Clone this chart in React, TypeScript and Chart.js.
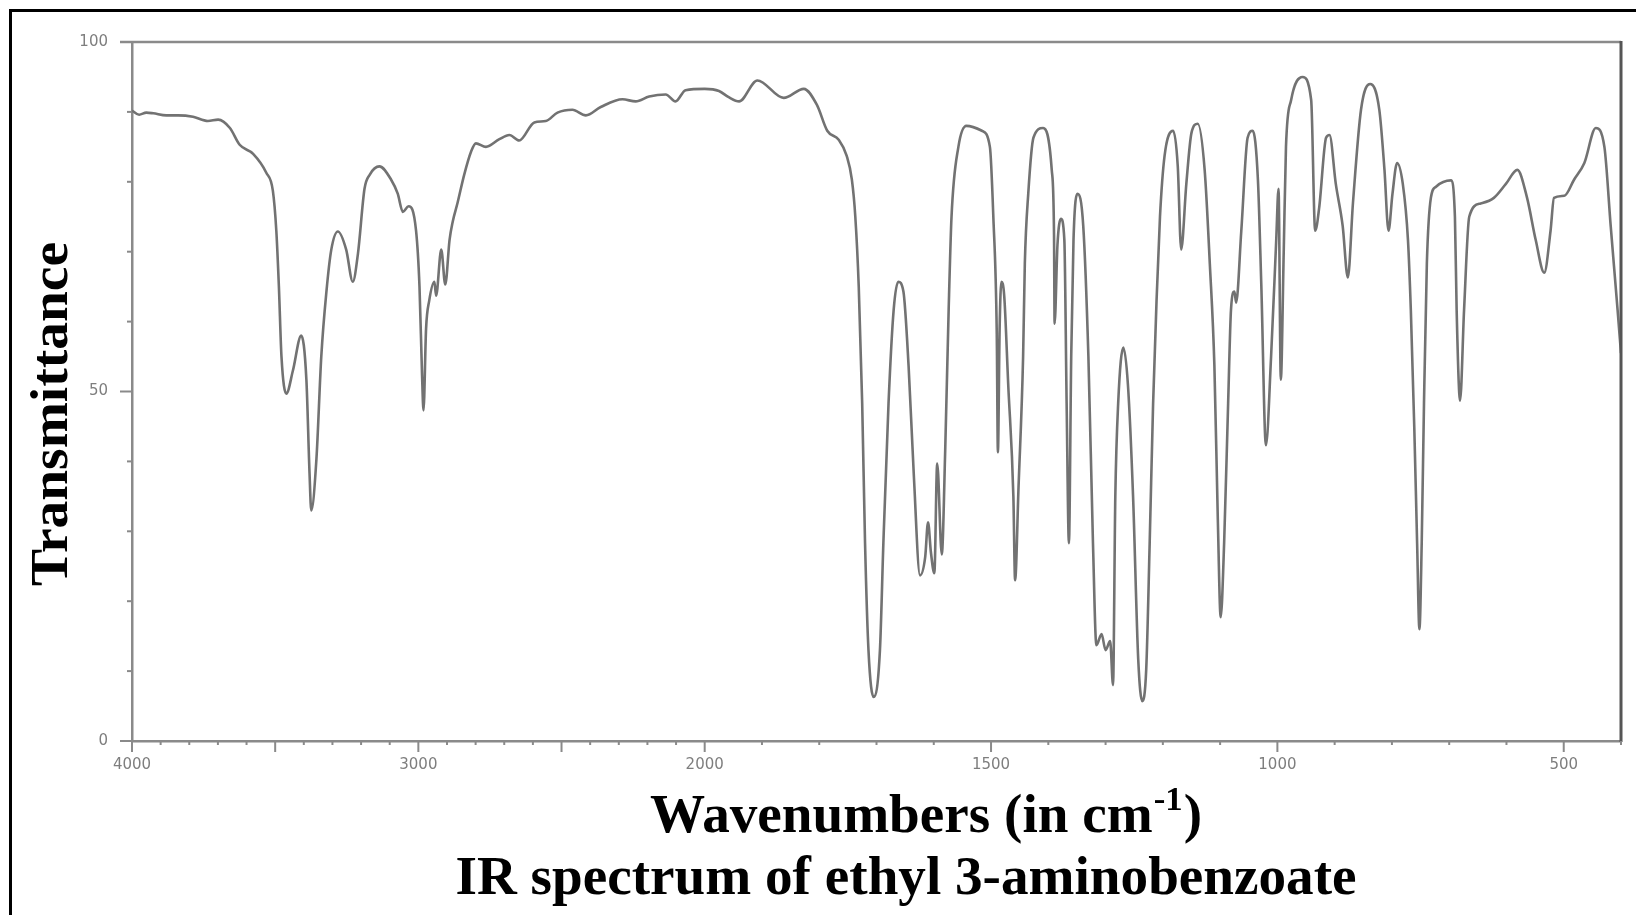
import React, { useEffect, useRef } from "react";
import { Chart, registerables } from "chart.js";

Chart.register(...registerables);

// ---------- data ----------
const wavenumbers: number[] = [
  4000, 3975, 3950, 3926, 3880, 3839, 3787, 3735, 3699, 3658, 3624, 3577, 3531, 3508, 3496, 3487, 3478, 3461,
  3438, 3409, 3391, 3380, 3374, 3356, 3339, 3321, 3304, 3281, 3252, 3229, 3211, 3188, 3170, 3136, 3095, 3072,
  3054, 3034, 3008, 2996, 2987, 2982, 2973, 2962, 2944, 2938, 2920, 2906, 2891, 2880, 2863, 2840, 2816, 2799,
  2764, 2717, 2682, 2648, 2595, 2555, 2514, 2462, 2415, 2363, 2287, 2241, 2194, 2136, 2102, 2067, 2000, 1975,
  1958, 1940, 1908, 1862, 1827, 1804, 1786, 1766, 1752, 1743, 1737, 1731, 1725, 1720, 1714, 1705, 1694, 1688,
  1679, 1670, 1662, 1653, 1644, 1635, 1624, 1615, 1610, 1605, 1599, 1594, 1586, 1580, 1574, 1569, 1557, 1543,
  1516, 1502, 1496, 1490, 1488, 1485, 1482, 1477, 1470, 1461, 1458, 1452, 1444, 1441, 1435, 1426, 1409, 1394,
  1390, 1389, 1384, 1378, 1372, 1368, 1364, 1360, 1356, 1349, 1339, 1330, 1322, 1316, 1307, 1300, 1292, 1287,
  1283, 1278, 1269, 1261, 1252, 1243, 1236, 1229, 1223, 1217, 1211, 1205, 1197, 1182, 1174, 1168, 1159, 1150,
  1139, 1127, 1118, 1110, 1104, 1099, 1093, 1086, 1081, 1075, 1072, 1063, 1052, 1043, 1034, 1028, 1020, 1011,
  1002, 998, 994, 989, 985, 976, 956, 941, 934, 927, 915, 909, 898, 886, 877, 868, 854, 838, 822, 813, 806, 799,
  791, 781, 772, 767, 761, 756, 752, 748, 744, 739, 732, 723, 697, 690, 687, 681, 674, 665, 645, 622, 601, 581,
  564, 549, 534, 523, 517, 499, 482, 464, 444, 429, 418, 406, 400,
];

const transmittance: number[] = [
  90.2, 89.6, 89.9, 89.8, 89.5, 89.5, 89.3, 88.7, 88.9, 87.7, 85.3, 84.0, 81.3, 78.7, 73.0, 65.0, 55.0, 49.7,
  53.0, 58.0, 51.7, 38.3, 33.0, 40.3, 55.0, 64.3, 70.3, 72.9, 70.3, 65.7, 69.7, 79.0, 81.0, 82.2, 80.3, 78.3,
  75.7, 76.5, 73.0, 65.0, 52.3, 47.3, 59.0, 63.0, 65.7, 63.7, 70.3, 65.3, 71.7, 74.3, 77.0, 81.0, 84.3, 85.5,
  85.0, 86.1, 86.7, 85.9, 88.5, 88.7, 89.9, 90.3, 89.5, 90.7, 91.8, 91.5, 92.2, 92.5, 91.5, 93.1, 93.3, 93.0,
  92.1, 91.5, 94.5, 92.0, 93.3, 91.0, 87.3, 86.0, 83.7, 80.3, 75.0, 65.0, 48.3, 28.3, 13.0, 6.3, 13.0, 28.3,
  48.3, 61.7, 65.7, 64.3, 53.7, 38.3, 23.7, 26.3, 31.3, 27.0, 24.0, 39.7, 26.7, 41.7, 61.7, 75.0, 85.0, 88.0,
  87.3, 85.0, 75.0, 58.3, 41.3, 59.0, 65.7, 63.7, 51.0, 35.0, 23.0, 36.3, 55.0, 68.3, 78.3, 86.3, 87.7, 81.7,
  72.3, 59.7, 71.0, 74.7, 71.7, 48.3, 28.3, 55.0, 71.7, 78.3, 73.7, 55.0, 28.3, 13.7, 15.3, 13.0, 14.3, 8.0,
  35.0, 48.3, 56.3, 51.0, 35.0, 11.7, 5.7, 10.3, 28.3, 48.3, 63.0, 75.0, 83.7, 87.3, 82.3, 70.3, 79.7, 87.0,
  88.3, 81.7, 68.3, 53.7, 31.7, 17.7, 28.3, 48.3, 61.7, 64.3, 62.7, 73.0, 86.3, 87.3, 80.3, 65.0, 42.3, 55.0,
  71.7, 79.0, 51.7, 69.7, 85.0, 91.7, 95.0, 91.7, 73.0, 76.3, 86.3, 86.7, 79.7, 73.7, 66.3, 77.0, 90.3, 94.0,
  90.3, 81.7, 73.0, 78.3, 82.7, 79.7, 71.7, 61.7, 45.0, 28.3, 16.0, 28.3, 48.3, 68.3, 77.7, 79.3, 80.2, 75.0,
  61.7, 48.7, 61.7, 75.0, 76.9, 77.7, 79.7, 81.7, 77.7, 71.7, 67.0, 73.0, 77.7, 78.0, 80.3, 82.7, 87.7, 85.0,
  73.7, 61.7, 55.5,
];

const xTickWavenumbers: number[] = [
  4000, 3900, 3800, 3700, 3600, 3500, 3400, 3300, 3200, 3100, 3000, 2900, 2800, 2700, 2600, 2500, 2400, 2300,
  2200, 2100, 2000, 1900, 1800, 1700, 1600, 1500, 1400, 1300, 1200, 1100, 1000, 900, 800, 700, 600, 500, 400,
];
const xMajorWavenumbers: number[] = [4000, 3500, 3000, 2500, 2000, 1500, 1000, 500];
const xLabelWavenumbers: number[] = [4000, 3000, 2000, 1500, 1000, 500];
const yTickValues: number[] = [0, 10, 20, 30, 40, 50, 60, 70, 80, 90, 100];
const yLabelValues: number[] = [0, 50, 100];

const yTitle = "Transmittance";
const xTitleMain = "Wavenumbers (in cm";
const xTitleSup = "-1";
const xTitleEnd = ")";
const chartTitle = "IR spectrum of ethyl 3-aminobenzoate";

// axis coordinate: 4000-2000 at half scale, below 2000 at full scale
function toAxis(wn: number): number {
  return wn >= 2000 ? (4000 - wn) / 2 : 1000 + (2000 - wn);
}
function fromAxis(u: number): number {
  return u <= 1000 ? 4000 - 2 * u : 2000 - (u - 1000);
}

const W = 1636;
const H = 915;

const decorPlugin = {
  id: "irDecor",
  afterDraw(chart: any) {
    const ctx = chart.ctx as CanvasRenderingContext2D;
    const area = chart.chartArea;
    const xs = chart.scales.x;
    const ys = chart.scales.y;
    ctx.save();

    // outer frame (left and top only visible)
    ctx.strokeStyle = "#000";
    ctx.lineWidth = 3;
    ctx.beginPath();
    ctx.moveTo(10.5, H + 5);
    ctx.lineTo(10.5, 10.5);
    ctx.lineTo(W + 5, 10.5);
    ctx.stroke();

    // top line and right line of the plot box
    ctx.strokeStyle = "#8a8a8a";
    ctx.lineWidth = 2.5;
    ctx.beginPath();
    ctx.moveTo(area.left - 12, area.top);
    ctx.lineTo(area.right, area.top);
    ctx.stroke();
    ctx.strokeStyle = "#555";
    ctx.lineWidth = 3;
    ctx.beginPath();
    ctx.moveTo(area.right, area.top - 1);
    ctx.lineTo(area.right, area.bottom + 1);
    ctx.stroke();

    // x tick marks
    ctx.strokeStyle = "#8a8a8a";
    ctx.lineWidth = 2;
    for (const w of xTickWavenumbers) {
      const px = xs.getPixelForValue(toAxis(w));
      const len = xMajorWavenumbers.includes(w) ? 11 : 4;
      ctx.beginPath();
      ctx.moveTo(px, area.bottom);
      ctx.lineTo(px, area.bottom + len);
      ctx.stroke();
    }
    // y tick marks
    for (const v of yTickValues) {
      const py = ys.getPixelForValue(v);
      const len = yLabelValues.includes(v) ? 12 : 5;
      ctx.beginPath();
      ctx.moveTo(area.left, py);
      ctx.lineTo(area.left - len, py);
      ctx.stroke();
    }

    // titles
    ctx.fillStyle = "#000";
    ctx.textBaseline = "alphabetic";

    // y title (rotated)
    ctx.font = "bold 52px 'Liberation Serif', 'Times New Roman', serif";
    ctx.textAlign = "center";
    {
      const m = ctx.measureText(yTitle).width;
      const target = 344;
      ctx.save();
      ctx.translate(67, 414);
      ctx.rotate(-Math.PI / 2);
      ctx.scale(target / m, 1);
      ctx.fillText(yTitle, 0, 0);
      ctx.restore();
    }

    // x title with superscript
    {
      const mainFont = "bold 54px 'Liberation Serif', 'Times New Roman', serif";
      const supFont = "bold 34px 'Liberation Serif', 'Times New Roman', serif";
      ctx.textAlign = "left";
      ctx.font = mainFont;
      const w1 = ctx.measureText(xTitleMain).width;
      const w3 = ctx.measureText(xTitleEnd).width;
      ctx.font = supFont;
      const w2 = ctx.measureText(xTitleSup).width;
      const total = w1 + w2 + w3 + 2;
      const target = 552;
      const s = target / total;
      const left = 926 - target / 2;
      const base = 832;
      ctx.save();
      ctx.translate(left, base);
      ctx.scale(s, 1);
      ctx.font = mainFont;
      ctx.fillText(xTitleMain, 0, 0);
      ctx.font = supFont;
      ctx.fillText(xTitleSup, w1 + 1, -22);
      ctx.font = mainFont;
      ctx.fillText(xTitleEnd, w1 + w2 + 2, 0);
      ctx.restore();
    }

    // chart title
    {
      ctx.font = "bold 54px 'Liberation Serif', 'Times New Roman', serif";
      ctx.textAlign = "center";
      const m = ctx.measureText(chartTitle).width;
      const target = 901;
      ctx.save();
      ctx.translate(906, 894);
      ctx.scale(target / m, 1);
      ctx.fillText(chartTitle, 0, 0);
      ctx.restore();
    }

    ctx.restore();
  },
};

export default function App() {
  const canvasRef = useRef<HTMLCanvasElement | null>(null);

  useEffect(() => {
    const canvas = canvasRef.current;
    if (!canvas) return;
    const points = wavenumbers.map((w, i) => ({ x: toAxis(w), y: transmittance[i] }));
    const tickFont = { family: "'DejaVu Sans', sans-serif", size: 15 };
    const chart = new Chart(canvas, {
      type: "line",
      data: {
        datasets: [
          {
            data: points,
            borderColor: "#727272",
            borderWidth: 2.6,
            pointRadius: 0,
            fill: false,
            cubicInterpolationMode: "monotone",
          },
        ],
      },
      options: {
        responsive: false,
        animation: false,
        devicePixelRatio: 1,
        events: [],
        parsing: false as any,
        layout: { padding: { left: 0, top: 42, right: 12, bottom: H - 741 - 40 } },
        plugins: {
          legend: { display: false },
          tooltip: { enabled: false },
          title: { display: false },
        },
        scales: {
          x: {
            type: "linear",
            min: 0,
            max: 2600,
            afterBuildTicks: (s: any) => {
              s.ticks = xTickWavenumbers.map((w) => ({ value: toAxis(w) }));
            },
            afterFit: (s: any) => {
              s.height = 40;
            },
            ticks: {
              autoSkip: false,
              maxRotation: 0,
              minRotation: 0,
              padding: 15,
              color: "#7e7e7e",
              font: tickFont,
              callback: (v: any) => {
                const w = Math.round(fromAxis(Number(v)));
                return xLabelWavenumbers.includes(w) ? String(w) : "";
              },
            },
            grid: { display: false, drawTicks: false },
            border: { display: true, color: "#8a8a8a", width: 2.5 },
          },
          y: {
            type: "linear",
            min: 0,
            max: 100,
            afterBuildTicks: (s: any) => {
              s.ticks = yTickValues.map((v) => ({ value: v }));
            },
            afterFit: (s: any) => {
              s.width = 132;
            },
            ticks: {
              autoSkip: false,
              padding: 24,
              color: "#7e7e7e",
              font: tickFont,
              callback: (v: any) => (yLabelValues.includes(Number(v)) ? String(v) : ""),
            },
            grid: { display: false, drawTicks: false },
            border: { display: true, color: "#8a8a8a", width: 2.5 },
          },
        },
      },
      plugins: [decorPlugin],
    } as any);
    return () => chart.destroy();
  }, []);

  return (
    <div
      style={{
        position: "absolute",
        left: 0,
        top: 0,
        width: W,
        height: H,
        overflow: "hidden",
        background: "#fff",
      }}
    >
      <canvas ref={canvasRef} width={W} height={H} style={{ display: "block", width: W, height: H }} />
    </div>
  );
}
